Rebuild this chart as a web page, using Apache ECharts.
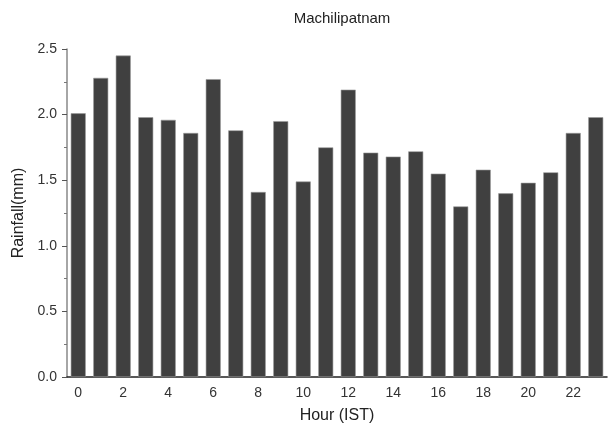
<!DOCTYPE html>
<html>
<head>
<meta charset="utf-8">
<script src="https://cdn.jsdelivr.net/npm/echarts@6/dist/echarts.min.js"></script>
<style>
  html, body { margin: 0; padding: 0; background: #fff; }
  #chart { width: 609px; height: 431px; }
</style>
</head>
<body>
<div id="chart"></div>
<script>
// hourly mean rainfall
const hours = ['0','1','2','3','4','5','6','7','8','9','10','11','12','13','14','15','16','17','18','19','20','21','22','23'];
const rainfall = [2.01, 2.28, 2.45, 1.98, 1.96, 1.86, 2.27, 1.88, 1.41, 1.95, 1.49, 1.75,
                  2.19, 1.71, 1.68, 1.72, 1.55, 1.30, 1.58, 1.40, 1.48, 1.56, 1.86, 1.98];

const font = 'Liberation Sans, Arial, sans-serif';
let myChart = echarts.init(document.getElementById('chart'));
let option = {
  animation: false,
  title: {
    text: 'Machilipatnam',
    left: 337,
    textAlign: 'center',
    top: 6,
    textStyle: { fontFamily: font, fontSize: 15, fontWeight: 'normal', color: '#222' }
  },
  grid: { left: 67, right: 2, top: 49, bottom: 54 },
  xAxis: {
    type: 'category',
    data: hours,
    name: 'Hour (IST)',
    nameLocation: 'middle',
    nameGap: 31,
    nameTextStyle: { fontFamily: font, fontSize: 16, color: '#222' },
    axisLine: { lineStyle: { color: '#222', width: 1.5 } },
    axisTick: { alignWithLabel: true, interval: 0, length: 4, lineStyle: { color: '#222' } },
    axisLabel: { interval: 1, fontFamily: font, fontSize: 14, color: '#333', margin: 9 }
  },
  yAxis: {
    type: 'value',
    min: 0,
    max: 2.5,
    interval: 0.5,
    name: 'Rainfall(mm)',
    nameLocation: 'middle',
    nameGap: 40,
    nameTextStyle: { fontFamily: font, fontSize: 16, color: '#222' },
    axisLine: { show: true, lineStyle: { color: '#888', width: 1.5 } },
    axisTick: { show: true, length: 5, lineStyle: { color: '#555' } },
    minorTick: { show: true, splitNumber: 2, length: 3, lineStyle: { color: '#777' } },
    splitLine: { show: false },
    axisLabel: {
      fontFamily: font, fontSize: 14, color: '#333', margin: 10,
      formatter: function (v) { return v.toFixed(1); }
    }
  },
  series: [{
    type: 'bar',
    data: rainfall,
    barWidth: 15,
    itemStyle: { color: '#404040', borderColor: '#9a9a9a', borderWidth: 0.6 }
  }]
};
myChart.setOption(option, true);
</script>
</body>
</html>
